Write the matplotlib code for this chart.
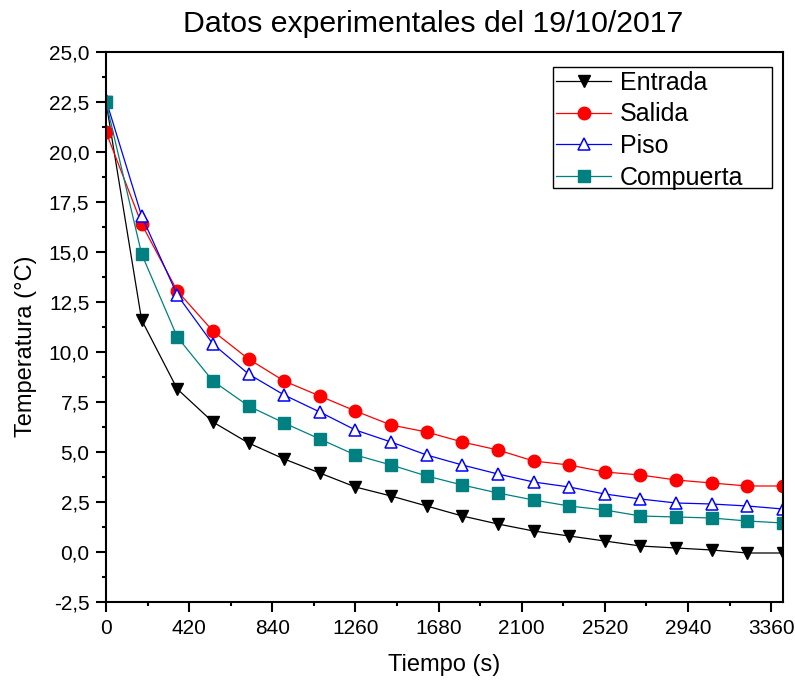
import matplotlib
matplotlib.use('Agg')
import matplotlib.pyplot as plt
from matplotlib.patches import Rectangle
from matplotlib.ticker import MultipleLocator, FuncFormatter

plt.rcParams['font.family'] = ['Liberation Sans', 'DejaVu Sans']

# datos
tiempo = [0, 180, 360, 540, 720, 900, 1080, 1260, 1440, 1620,
          1800, 1980, 2160, 2340, 2520, 2700, 2880, 3060, 3240, 3420]
entrada = [22.5, 11.6, 8.15, 6.5, 5.45, 4.65, 3.95, 3.25, 2.8, 2.3,
           1.8, 1.4, 1.05, 0.8, 0.55, 0.3, 0.2, 0.1, -0.05, -0.05]
salida = [21.0, 16.4, 13.05, 11.05, 9.65, 8.55, 7.8, 7.05, 6.35, 6.0,
          5.5, 5.1, 4.55, 4.35, 4.0, 3.85, 3.6, 3.45, 3.3, 3.3]
piso = [22.6, 16.8, 12.85, 10.4, 8.9, 7.85, 7.0, 6.1, 5.5, 4.85,
        4.35, 3.9, 3.5, 3.25, 2.9, 2.65, 2.45, 2.4, 2.3, 2.15]
compuerta = [22.5, 14.9, 10.75, 8.55, 7.3, 6.45, 5.65, 4.85, 4.35, 3.8,
             3.35, 2.95, 2.6, 2.3, 2.1, 1.8, 1.75, 1.7, 1.55, 1.45]

W, H = 795, 682
fig = plt.figure(figsize=(W / 100, H / 100), dpi=100)
ax = fig.add_axes([106/W, 1 - 602/H, (783 - 106)/W, (602 - 52)/H])

lw = 0.9
ax.plot(tiempo, entrada, color='black', lw=lw, marker='v', ms=9,
        mfc='black', mec='black', label='Entrada')
ax.plot(tiempo, salida, color='red', lw=lw, marker='o', ms=9,
        mfc='red', mec='red', label='Salida')
ax.plot(tiempo, piso, color='blue', lw=lw, marker='^', ms=9,
        mfc='white', mec='blue', mew=1.1, label='Piso')
ax.plot(tiempo, compuerta, color='#008080', lw=lw, marker='s', ms=8,
        mfc='#008080', mec='#008080', label='Compuerta')

ax.set_xlim(0, 3420)
ax.set_ylim(-2.5, 25)
ax.xaxis.set_major_locator(MultipleLocator(420))
ax.xaxis.set_minor_locator(MultipleLocator(210))
ax.yaxis.set_major_locator(MultipleLocator(2.5))
ax.yaxis.set_minor_locator(MultipleLocator(1.25))
ax.yaxis.set_major_formatter(FuncFormatter(lambda v, p: f'{v:.1f}'.replace('.', ',')))

for s in ax.spines.values():
    s.set_linewidth(1.5)
    s.set_color('black')
ax.tick_params(which='major', direction='out', length=7, width=1.5, labelsize=15, pad=5)
ax.tick_params(which='minor', direction='out', length=3, width=1.5)

ax.set_xlabel('Tiempo (s)', fontsize=17, labelpad=12)
fig.text(26/W, 1 - 346/H, 'Temperatura (°C)', rotation=90, fontsize=17,
         ha='center', va='center')
fig.text(433/W, 1 - 31.5/H, 'Datos experimentales del 19/10/2017',
         fontsize=21.8, ha='center', va='baseline')

# leyenda sin marco + marco aparte (el original deja hueco a la derecha)
leg = ax.legend(loc='upper left', bbox_to_anchor=(556/W, 1 - 70.5/H),
                bbox_transform=fig.transFigure, borderaxespad=0, borderpad=0,
                fontsize=18, handlelength=2.2, handletextpad=0.35,
                labelspacing=0.31, frameon=False)
leg.set_zorder(6)
ax.add_patch(Rectangle((553/W, 1 - 188/H), (772 - 553)/W, (188 - 67)/H,
                       transform=fig.transFigure, fc='white', ec='black',
                       lw=1.0, zorder=5, clip_on=False))

fig.savefig('out.png', dpi=100)
